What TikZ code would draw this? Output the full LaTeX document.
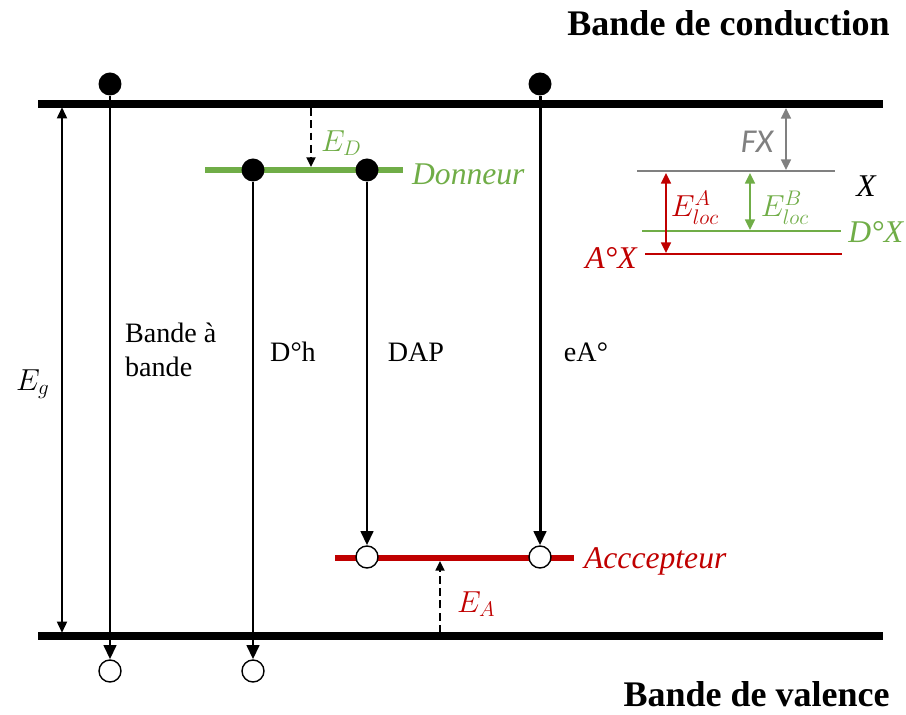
\documentclass[tikz,border=0pt]{standalone}
\usepackage{fontspec}
\setmainfont{Liberation Serif}
\newfontfamily\fxfont{Carlito}
\usetikzlibrary{arrows.meta}

\definecolor{dongreen}{RGB}{112,173,71}
\definecolor{accred}{RGB}{192,0,0}
\definecolor{fxgray}{RGB}{128,128,128}

\tikzset{
  band/.style={line width=4pt},
  level/.style={line width=3.2pt},
  sublevel/.style={line width=1.6pt},
  elec/.style={circle, fill=black, inner sep=0pt, minimum size=0.46cm},
  hole/.style={circle, draw=black, fill=white, line width=0.8pt, inner sep=0pt, minimum width=0.44cm, minimum height=0.40cm},
  trans/.style={line width=1.7pt, -{Triangle[length=8pt, width=7pt]}},
  gap/.style={line width=1.3pt, dash pattern=on 4.5pt off 2.5pt, -{Triangle[length=5.5pt, width=5pt]}},
  loc/.style={line width=1.3pt, {Triangle[length=6pt, width=5.5pt]}-{Triangle[length=6pt, width=5.5pt]}},
  lbl/.style={inner sep=1pt, font=\fontsize{16}{19}\selectfont},
  mlbl/.style={inner sep=1pt, font=\fontsize{18.5}{22}\selectfont},
  tlbl/.style={inner sep=1pt, font=\fontsize{18}{21}\selectfont\itshape},
  title/.style={inner sep=0pt, anchor=east, font=\fontsize{20.5}{24}\selectfont\bfseries},
}

\begin{document}
\begin{tikzpicture}[x=0.02cm, y=-0.02cm]

  \useasboundingbox (0,0) rectangle (906,715);

  % Bands
  \coordinate (cbl) at (38,104);
  \coordinate (cbr) at (883,104);
  \coordinate (vbl) at (38,636);
  \coordinate (vbr) at (883,636);
  \draw[band] (cbl) -- (cbr);
  \draw[band] (vbl) -- (vbr);
  \node[title] (cbtitle) at (890,23) {Bande de conduction};
  \node[title] (vbtitle) at (890,694) {Bande de valence};

  % Gap
  \coordinate (egtop) at (62,107);
  \coordinate (egbot) at (62,633);
  \draw[line width=1.6pt, {Triangle[length=6.5pt, width=5.5pt]}-{Triangle[length=6.5pt, width=5.5pt]}] (egtop) -- (egbot);
  \node[mlbl] (eg) at (33,384) {$E_g$};

  % Donor and acceptor levels
  \coordinate (donl) at (205,170);
  \coordinate (donr) at (403,170);
  \coordinate (accl) at (335,558);
  \coordinate (accr) at (574,558);
  \draw[level, dongreen] (donl) -- (donr);
  \draw[level, accred] (accl) -- (accr);
  \node[tlbl, anchor=west, text=dongreen] (don) at (410,174) {Donneur};
  \node[tlbl, anchor=west, text=accred] (acc) at (582,561) {Acccepteur};

  % Ionisation energies
  \coordinate (edtop) at (311,108);
  \coordinate (edbot) at (311,167);
  \coordinate (eabot) at (440,633);
  \coordinate (eatop) at (440,561);
  \draw[gap] (edtop) -- (edbot);
  \draw[gap] (eabot) -- (eatop);
  \node[mlbl, anchor=west, text=dongreen] (ed) at (319,143) {$E_D$};
  \node[mlbl, anchor=west, text=accred] (ea) at (455,604) {$E_A$};

  % Electrons and holes
  \node[elec] (ebb) at (110,84) {};
  \node[elec] (edh) at (253,170) {};
  \node[elec] (edap) at (367,170) {};
  \node[elec] (eea) at (540,84) {};
  \node[hole] (hbb) at (110,671) {};
  \node[hole] (hdh) at (253,671) {};
  \node[hole] (hdap) at (367,557) {};
  \node[hole] (hea) at (540,557) {};

  % Transitions
  \draw[trans] (ebb) -- (hbb);
  \draw[trans] (edh) -- (hdh);
  \draw[trans] (edap) -- (hdap);
  \draw[trans] (eea) -- (hea);
  \node[lbl, anchor=west, align=left] (tbb) at (123,350) {Bande à\\bande};
  \node[lbl] (tdh) at (293,352) {D°h};
  \node[lbl] (tdap) at (416,352) {DAP};
  \node[lbl] (tea) at (586,352) {eA°};

  % Exciton levels
  \coordinate (xl) at (637,171);
  \coordinate (xr) at (835,171);
  \coordinate (dxl) at (642,231);
  \coordinate (dxr) at (841,231);
  \coordinate (axl) at (645,254);
  \coordinate (axr) at (842,254);
  \draw[sublevel, fxgray] (xl) -- (xr);
  \draw[sublevel, dongreen] (dxl) -- (dxr);
  \draw[sublevel, accred] (axl) -- (axr);
  \node[tlbl, inner sep=0pt] (x) at (866,186) {X};
  \node[tlbl, inner sep=0pt, anchor=west, text=dongreen] (dx) at (848,232) {D°X};
  \node[tlbl, inner sep=0pt, anchor=east, text=accred] (ax) at (637,258) {A°X};

  % Binding energies
  \coordinate (fxtop) at (786,108);
  \coordinate (fxbot) at (786,170);
  \coordinate (latop) at (666,173);
  \coordinate (labot) at (666,253);
  \coordinate (lbtop) at (750,173);
  \coordinate (lbbot) at (750,230);
  \draw[loc, fxgray] (fxtop) -- (fxbot);
  \draw[loc, accred] (latop) -- (labot);
  \draw[loc, dongreen] (lbtop) -- (lbbot);
  \node[inner sep=1pt, text=fxgray, font=\fontsize{19}{22}\selectfont\fxfont\itshape] (fx) at (757,142) {FX};
  \node[mlbl, text=accred] (ela) at (695,208) {$E^A_{loc}$};
  \node[mlbl, text=dongreen] (elb) at (785,208) {$E^B_{loc}$};

\end{tikzpicture}
\end{document}
